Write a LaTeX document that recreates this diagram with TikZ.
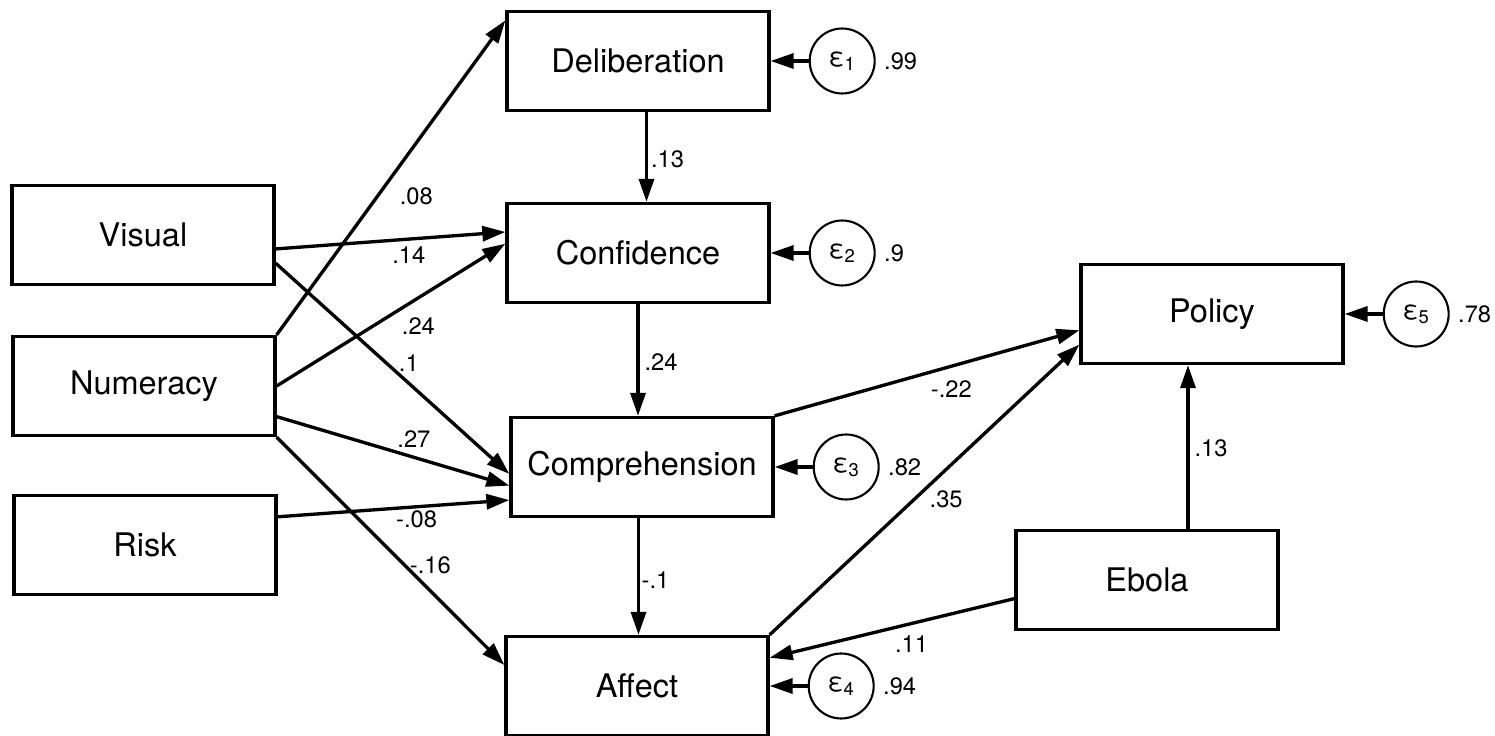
\documentclass[tikz,border=0pt]{standalone}
\usepackage{fontspec}
\setmainfont{TeX Gyre Heros}
\usetikzlibrary{arrows.meta, positioning}

\begin{document}
\begin{tikzpicture}[
            x = 0.02cm, y = -0.02cm, % one unit = one pixel, y downwards
            > = {Triangle[length=0.46cm, width=0.3cm]}, % arrow head style
            line width = 1.9pt, % line style
            node distance = 0.76cm % distance from box to error term
        ]

        \tikzstyle{box}=[
            draw = black,
            rectangle,
            minimum width = 5.24cm,
            minimum height = 1.98cm,
            font = \fontsize{18.5}{20}\selectfont
        ]
        \tikzstyle{err}=[
            draw = black,
            circle,
            line width = 1.2pt,
            minimum size = 1.3cm,
            inner sep = 0pt,
            font = \fontsize{15}{16}\selectfont
        ]
        \tikzstyle{coef}=[
            inner sep = 1pt,
            font = \fontsize{13.5}{15}\selectfont
        ]

        \useasboundingbox (0,0) rectangle (1495,736);

        % observed variables
        \node[box] (vis) at (143,235) {Visual};
        \node[box] (num) at (144,386) {Numeracy};
        \node[box] (risk) at (145,545) {Risk};
        \node[box] (delib) at (638,61) {Deliberation};
        \node[box] (conf) at (638,253) {Confidence};
        \node[box] (comp) at (642,467) {Comprehension};
        \node[box] (aff) at (637,686) {Affect};
        \node[box] (pol) at (1212,314) {Policy};
        \node[box] (ebola) at (1147,580) {Ebola};

        % error terms
        \node[err, right=of delib, label={[coef, label distance=0.1cm]right:.99}] (e1) {ε\textsubscript{1}};
        \node[err, right=of conf, label={[coef, label distance=0.1cm]right:.9}] (e2) {ε\textsubscript{2}};
        \node[err, right=of comp, label={[coef, label distance=0.1cm]right:.82}] (e3) {ε\textsubscript{3}};
        \node[err, right=of aff, label={[coef, label distance=0.1cm]right:.94}] (e4) {ε\textsubscript{4}};
        \node[err, right=of pol, label={[coef, label distance=0.1cm]right:.78}] (e5) {ε\textsubscript{5}};

        \path[->] (e1) edge (delib);
        \path[->] (e2) edge (conf);
        \path[->] (e3) edge (comp);
        \path[->] (e4) edge (aff);
        \path[->] (e5) edge (pol);

        % paths from the left column
        \draw[->] (num.north east) -- (delib.163) node[coef, pos=.44, xshift=.78cm] {.08};
        \draw[->] (vis.-6) -- (conf.171) node[coef, pos=.58, yshift=-.32cm] {.14};
        \draw[->] (vis.-12) -- (comp.183) node[coef, pos=.57, yshift=.4cm] {.1};
        \draw[->] (num.east) -- (conf.176) node[coef, pos=.62, yshift=-.56cm] {.24};
        \draw[->] (num.-13) -- (comp.188) node[coef, pos=.59, yshift=.36cm] {.27};
        \draw[->] (num.south east) -- (aff.171) node[coef, pos=.64, xshift=.16cm, yshift=.36cm] {-.16};
        \draw[->] (risk.12) -- (comp.194) node[coef, pos=.6, yshift=-.25cm] {-.08};

        % middle column
        \draw[->] ([xshift=0.17cm]delib.south) -- ([xshift=0.17cm]delib.south |- conf.north) node[coef, pos=.53, xshift=.42cm] {.13};
        \draw[->] (conf.south) -- (conf.south |- comp.north) node[coef, pos=.52, xshift=.46cm] {.24};
        \draw[->] ([xshift=-0.07cm]comp.south) -- ([xshift=-0.07cm]comp.south |- aff.north) node[coef, pos=.53, xshift=.34cm] {-.1};

        % to policy
        \draw[->] (comp.north east) -- (pol.187) node[coef, pos=.58, yshift=-.45cm] {-.22};
        \draw[->] (aff.north east) -- (pol.193) node[coef, pos=.57, yshift=-.6cm] {.35};
        \draw[->] (ebola.188) -- (aff.12) node[coef, pos=.42, yshift=-.42cm] {.11};
        \draw[->] ([xshift=0.82cm]ebola.north) -- ([xshift=0.82cm]ebola.north |- pol.south) node[coef, pos=.49, xshift=.46cm] {.13};

  \end{tikzpicture}
\end{document}
